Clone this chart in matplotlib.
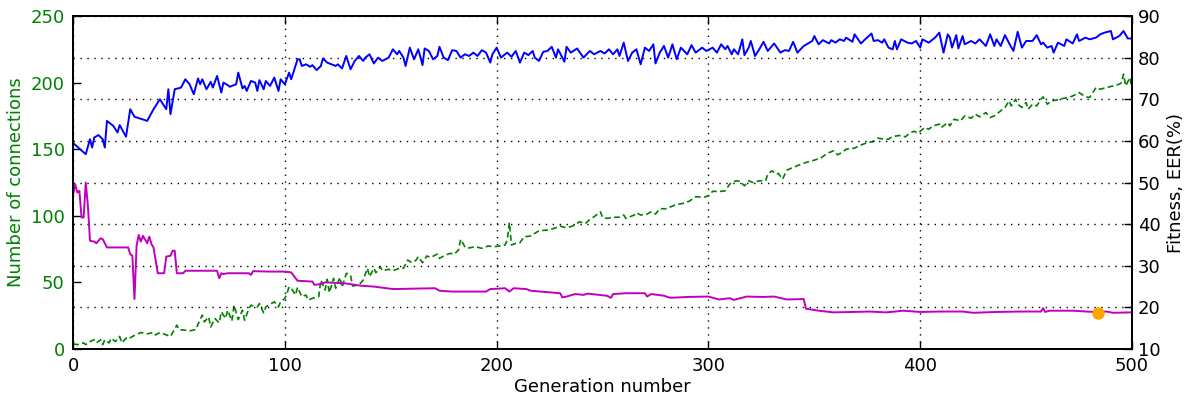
import matplotlib
matplotlib.use("Agg")
import matplotlib.pyplot as plt

# fitness (blue, right axis)
fit_gen = [0, 2, 6, 8, 9, 10, 12, 14, 15, 16,
           19, 21, 22, 25, 27, 29, 35, 38, 41, 44,
           45, 46, 48, 51, 53, 55, 57, 59, 60, 61,
           63, 65, 66, 68, 70, 71, 73, 74, 77, 78,
           80, 81, 82, 84, 86, 87, 88, 90, 91, 93,
           95, 97, 98, 100, 102, 103, 106, 107, 108, 110,
           112, 113, 115, 117, 118, 120, 124, 125, 127, 129,
           131, 133, 135, 137, 138, 140, 142, 144, 146, 149,
           151, 153, 154, 156, 157, 159, 161, 163, 165, 166,
           168, 170, 172, 173, 175, 177, 179, 181, 183, 185,
           187, 189, 191, 193, 195, 197, 198, 200, 202, 205,
           207, 209, 211, 213, 215, 217, 218, 220, 222, 224,
           226, 228, 229, 232, 233, 235, 238, 241, 244, 246,
           249, 251, 253, 255, 257, 258, 260, 262, 264, 266,
           268, 270, 272, 274, 275, 277, 279, 281, 283, 285,
           287, 290, 292, 294, 297, 299, 302, 304, 306, 308,
           309, 311, 312, 314, 316, 317, 319, 320, 322, 324,
           326, 328, 331, 334, 336, 338, 340, 342, 345, 349,
           350, 352, 354, 357, 358, 360, 362, 364, 365, 368,
           369, 372, 374, 377, 378, 380, 382, 383, 385, 387,
           388, 389, 391, 394, 396, 398, 400, 401, 404, 407,
           409, 411, 413, 414, 415, 417, 418, 420, 421, 424,
           426, 428, 431, 433, 435, 436, 438, 440, 442, 444,
           446, 448, 450, 453, 455, 457, 458, 460, 462, 463,
           465, 468, 469, 472, 474, 475, 478, 480, 483, 485,
           487, 490, 491, 494, 496, 498, 500]
fitness = [59.5, 58.6, 56.8, 60.4, 58.4, 60.8, 61.4, 60.4, 58.4, 64.8,
           63.6, 62.0, 63.8, 61.0, 67.6, 65.8, 64.8, 67.6, 70.0, 67.6,
           72.4, 66.4, 72.4, 72.8, 74.8, 73.6, 71.2, 75.0, 73.6, 74.8,
           72.4, 74.2, 72.8, 75.6, 71.6, 74.0, 73.4, 73.0, 73.6, 76.4,
           72.6, 73.2, 72.0, 74.4, 74.0, 72.0, 74.6, 72.4, 74.4, 73.2,
           75.2, 72.0, 74.8, 73.6, 76.4, 74.8, 79.6, 79.6, 78.0, 78.4,
           77.8, 78.2, 77.0, 78.0, 79.8, 78.8, 78.0, 78.4, 77.4, 80.4,
           77.2, 79.2, 80.4, 79.2, 80.0, 80.8, 78.6, 80.0, 79.2, 80.0,
           82.0, 80.8, 81.6, 80.0, 78.0, 82.4, 79.6, 82.0, 78.2, 82.2,
           81.6, 79.6, 80.4, 82.6, 80.0, 79.4, 81.8, 81.6, 80.0, 80.8,
           80.4, 81.2, 80.4, 81.8, 81.2, 78.8, 80.8, 82.4, 80.0, 81.2,
           80.2, 81.6, 78.8, 81.2, 80.6, 81.6, 80.0, 79.2, 81.4, 81.6,
           82.6, 80.0, 82.0, 79.0, 82.6, 81.2, 82.2, 80.0, 81.6, 80.8,
           81.6, 81.0, 82.0, 80.8, 82.0, 80.4, 83.6, 79.2, 81.2, 82.0,
           78.4, 82.4, 81.6, 83.2, 78.6, 81.2, 82.8, 80.0, 83.2, 79.6,
           82.4, 80.8, 83.0, 81.2, 82.4, 81.6, 82.4, 81.2, 83.2, 82.0,
           82.8, 80.8, 82.0, 80.8, 84.4, 80.6, 82.4, 84.0, 80.4, 82.0,
           83.8, 81.6, 83.4, 81.2, 81.8, 81.6, 83.8, 81.2, 82.8, 84.0,
           85.2, 83.2, 84.2, 83.4, 84.2, 83.6, 84.4, 84.0, 84.8, 83.8,
           85.6, 83.4, 84.4, 85.8, 84.0, 84.2, 83.6, 84.4, 82.4, 82.0,
           84.0, 82.0, 84.4, 83.6, 83.4, 84.0, 82.4, 84.4, 83.6, 84.8,
           86.0, 81.2, 85.6, 84.8, 82.4, 85.4, 82.2, 85.2, 83.2, 84.0,
           83.4, 84.4, 82.8, 85.6, 82.8, 84.4, 82.8, 85.4, 83.4, 81.6,
           86.2, 82.4, 84.0, 84.0, 85.4, 83.2, 83.6, 82.4, 82.8, 81.2,
           83.6, 82.8, 84.4, 83.4, 85.6, 84.0, 84.8, 84.4, 84.8, 85.6,
           86.0, 86.4, 84.4, 85.2, 86.4, 84.6, 84.6]

# EER (magenta, right axis)
eer_gen = [0, 1, 2, 3, 4, 5, 6, 7, 8, 10,
           11, 13, 14, 16, 26, 27, 28, 29, 30, 31,
           32, 33, 35, 36, 37, 38, 40, 43, 44, 46,
           47, 48, 49, 52, 53, 68, 69, 70, 71, 73,
           83, 84, 85, 93, 100, 103, 106, 113, 114, 117,
           119, 128, 136, 142, 151, 171, 173, 179, 195, 197,
           204, 206, 208, 214, 216, 230, 231, 233, 237, 241,
           243, 252, 254, 255, 261, 270, 271, 273, 279, 282,
           290, 300, 305, 310, 312, 318, 326, 331, 337, 345,
           346, 352, 359, 368, 376, 384, 392, 400, 409, 420,
           425, 436, 447, 457, 458, 459, 461, 472, 482, 488,
           491, 500]
eer = [47.0, 49.6, 47.6, 48.0, 41.6, 41.6, 50.0, 44.4, 36.0, 35.8,
       35.4, 36.6, 36.4, 34.4, 34.4, 32.8, 32.4, 22.0, 34.8, 37.4,
       35.8, 37.2, 35.4, 37.0, 35.2, 34.4, 28.2, 28.2, 32.2, 32.4,
       33.6, 33.6, 28.2, 28.2, 28.8, 28.8, 27.0, 28.2, 28.0, 28.2,
       28.2, 27.8, 28.7, 28.6, 28.6, 28.4, 26.4, 26.2, 25.4, 25.6,
       26.0, 25.8, 25.2, 25.0, 24.4, 24.6, 24.0, 23.8, 23.8, 24.4,
       24.6, 23.8, 24.6, 24.4, 24.0, 23.4, 22.4, 22.6, 23.2, 23.0,
       23.3, 22.8, 22.3, 23.2, 23.4, 23.4, 22.6, 23.2, 22.8, 22.3,
       22.5, 22.6, 21.9, 22.2, 21.8, 22.6, 22.5, 22.6, 21.9, 22.0,
       19.7, 19.2, 18.8, 18.9, 19.0, 18.8, 19.2, 18.9, 19.0, 19.0,
       18.7, 18.9, 19.0, 19.0, 19.8, 18.9, 19.2, 19.2, 18.9, 19.0,
       18.7, 18.8]

# number of connections (green dashed, left axis)
conn_gen = [0, 2, 5, 6, 8, 10, 11, 13, 14, 15,
            17, 18, 20, 22, 23, 25, 26, 28, 32, 35,
            38, 39, 41, 44, 46, 49, 50, 53, 55, 58,
            59, 61, 62, 64, 65, 67, 69, 70, 72, 73,
            75, 76, 78, 80, 81, 83, 84, 87, 88, 90,
            91, 93, 95, 97, 98, 100, 101, 102, 103, 105,
            106, 108, 110, 111, 113, 116, 117, 119, 120, 121,
            123, 124, 126, 127, 129, 131, 132, 135, 137, 139,
            140, 142, 143, 145, 146, 149, 151, 154, 156, 158,
            160, 162, 163, 165, 167, 169, 172, 173, 176, 178,
            180, 182, 183, 185, 186, 190, 193, 196, 199, 202,
            204, 205, 206, 207, 209, 211, 213, 216, 218, 220,
            224, 227, 230, 232, 235, 237, 239, 242, 244, 246,
            249, 250, 252, 255, 258, 260, 261, 265, 266, 268,
            271, 273, 275, 277, 280, 283, 285, 288, 291, 294,
            298, 300, 302, 305, 308, 310, 313, 315, 317, 319,
            321, 324, 327, 328, 330, 332, 333, 335, 337, 340,
            343, 346, 350, 353, 356, 359, 361, 363, 365, 369,
            371, 375, 378, 380, 383, 385, 387, 390, 393, 395,
            397, 399, 402, 404, 406, 409, 410, 413, 414, 416,
            419, 421, 424, 426, 428, 431, 433, 435, 438, 440,
            442, 443, 445, 446, 448, 450, 451, 453, 455, 457,
            458, 460, 462, 464, 468, 470, 472, 475, 478, 480,
            483, 485, 488, 491, 494, 495, 496, 497, 499, 500]
connections = [3.8, 3.3, 4.6, 3.3, 5.6, 6.9, 4.6, 6.9, 3.3, 6.9,
               4.6, 8.1, 5.6, 9.4, 4.6, 8.1, 7.4, 9.4, 12.4, 11.4,
               12.4, 10.6, 12.4, 10.6, 9.4, 17.9, 14.6, 14.1, 13.6, 14.6,
               18.6, 25.4, 20.4, 24.1, 16.6, 22.9, 19.6, 27.9, 22.9, 29.1,
               21.1, 32.9, 22.1, 29.1, 21.6, 30.4, 32.9, 31.6, 34.1, 27.1,
               31.6, 33.6, 35.4, 31.6, 35.4, 38.0, 41.8, 46.6, 45.6, 40.5,
               46.3, 39.3, 40.5, 36.8, 38.0, 39.3, 51.8, 44.3, 52.3, 42.3,
               53.0, 45.6, 53.8, 46.3, 56.8, 55.5, 47.3, 48.1, 51.8, 60.6,
               54.3, 60.6, 57.3, 61.8, 58.8, 59.8, 58.8, 60.6, 60.6, 66.8,
               64.8, 66.8, 69.3, 64.8, 69.8, 68.8, 71.3, 68.1, 70.6, 71.8,
               71.3, 74.3, 82.3, 76.8, 75.6, 76.8, 75.6, 77.3, 76.8, 77.5,
               78.1, 81.8, 94.9, 78.1, 79.3, 79.8, 84.3, 84.8, 86.8, 88.8,
               89.3, 90.5, 92.3, 91.3, 91.8, 93.0, 95.5, 94.3, 97.3, 99.3,
               103.0, 98.8, 98.1, 98.8, 99.0, 100.6, 98.1, 100.6, 102.3, 100.6,
               101.3, 103.0, 101.3, 105.3, 105.3, 107.3, 108.5, 109.3, 111.0, 114.3,
               114.0, 115.0, 118.4, 118.2, 118.8, 123.8, 126.3, 125.8, 122.5, 126.3,
               125.0, 126.3, 126.3, 131.3, 133.8, 131.3, 131.8, 127.5, 134.3, 136.3,
               138.3, 140.0, 141.8, 143.3, 146.8, 148.8, 145.8, 147.5, 150.0, 150.8,
               152.5, 155.0, 155.8, 158.3, 157.5, 157.5, 159.5, 160.3, 159.3, 162.0,
               163.5, 162.0, 166.3, 165.0, 167.5, 168.8, 166.3, 170.0, 167.5, 172.5,
               171.3, 175.0, 173.3, 176.3, 174.3, 177.5, 173.8, 175.0, 178.8, 181.3,
               186.3, 182.5, 187.5, 183.8, 181.3, 185.0, 180.0, 183.8, 182.5, 187.5,
               189.3, 183.8, 186.3, 186.8, 188.3, 188.8, 190.0, 192.5, 189.3, 188.8,
               196.3, 195.0, 196.3, 197.5, 198.8, 200.0, 206.3, 197.5, 203.8, 196.0]

best_gen = [484]
best_eer = [18.6]

fs = 13
fig = plt.figure(figsize=(11.86, 3.98), dpi=100)
ax1 = fig.add_axes([0.0616, 0.1231, 0.8929, 0.8367])
ax2 = ax1.twinx()

ax1.plot(conn_gen, connections, color="green", linestyle="--", dashes=(3.5, 2), lw=1.2)
ax2.plot(fit_gen, fitness, color="blue", lw=1.4)
ax2.plot(eer_gen, eer, color="#bf00bf", lw=1.4)
ax2.plot(best_gen, best_eer, "o", color="orange", markersize=8, markeredgecolor="orange")

ax1.set_xlim(0, 500)
ax1.set_ylim(0, 250)
ax2.set_ylim(10, 90)
ax1.set_xticks([0, 100, 200, 300, 400, 500])
ax1.set_yticks([0, 50, 100, 150, 200, 250])
ax2.set_yticks([10, 20, 30, 40, 50, 60, 70, 80, 90])

# grid: horizontal lines follow the right axis, vertical ones the x ticks
dot = (0, (1, 4))
ax2.grid(True, axis="y", color="black", linestyle=dot, lw=1.0)
ax1.grid(True, axis="x", color="black", linestyle=dot, lw=1.0)

ax1.tick_params(axis="both", direction="in", length=6, width=1, labelsize=fs, top=True, pad=6)
ax1.tick_params(axis="y", labelcolor="green")
ax2.tick_params(axis="y", direction="in", length=6, width=1, labelsize=fs, pad=4)
for ax in (ax1, ax2):
    for s in ax.spines.values():
        s.set_linewidth(1.3)

ax1.set_xlabel("Generation number", fontsize=fs, labelpad=2)
ax1.set_ylabel("Number of connections", fontsize=fs, color="green", labelpad=4)
ax2.set_ylabel("Fitness, EER(%)", fontsize=fs, labelpad=5)

fig.savefig("out.png", dpi=100, facecolor="white")
